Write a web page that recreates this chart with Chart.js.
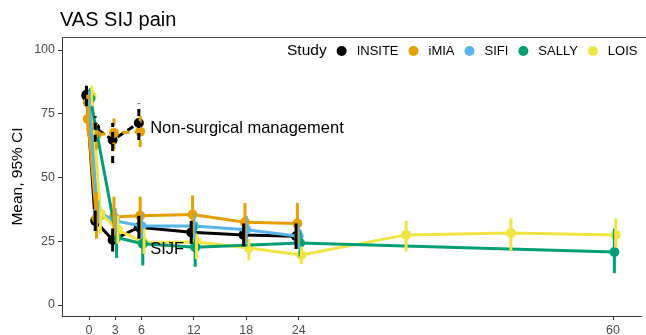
<!DOCTYPE html>
<html>
<head>
<meta charset="utf-8">
<script src="https://cdn.jsdelivr.net/npm/chart.js@4/dist/chart.umd.min.js"></script>
<style>
  html, body { margin: 0; padding: 0; background: #ffffff; }
  #wrap { width: 646px; height: 335px; }
</style>
</head>
<body>
<div id="wrap"><canvas id="chart" width="646" height="335"></canvas></div>
<script>
// Studies and their colours
const studies = ['INSITE', 'iMIA', 'SIFI', 'SALLY', 'LOIS'];
const studyColors = ['#000000', '#E69F00', '#56B4E9', '#009E73', '#F0E442'];
const studyDodge = [-0.3, -0.15, 0, 0.15, 0.3];

// Axis ticks
const xTicks = [0, 3, 6, 12, 18, 24, 60];
const yTicks = [0, 25, 50, 75, 100];

// SIJF arms: months, mean VAS and 95% CI
const insiteSijfMonths = [0, 1, 3, 6, 12, 18, 24];
const insiteSijfMean   = [82.5, 33, 25.5, 30.5, 28.5, 27.5, 27];
const insiteSijfLow    = [79, 29, 21, 26, 24, 23, 22];
const insiteSijfHigh   = [86, 37, 30, 35, 33, 32, 32];

const imiaSijfMonths = [0, 1, 3, 6, 12, 18, 24];
const imiaSijfMean   = [73, 34, 34.5, 35, 35.5, 32.5, 32];
const imiaSijfLow    = [68, 26, 27, 28, 28, 25, 24];
const imiaSijfHigh   = [78, 44, 42.5, 42.5, 43, 40, 40];

const sifiSijfMonths = [0, 1, 3, 6, 12, 18, 24];
const sifiSijfMean   = [80, 36.5, 33, 31, 31, 29.5, 27];
const sifiSijfLow    = [76, 32, 28, 26, 26, 24, 22];
const sifiSijfHigh   = [84, 41, 38, 36, 36, 35, 32];

const sallySijfMonths = [0, 3, 6, 12, 24, 60];
const sallySijfMean   = [81, 26.5, 24, 22.7, 24.3, 20.8];
const sallySijfLow    = [77, 18.5, 15.5, 15, 19, 12.5];
const sallySijfHigh   = [85, 34, 30, 32, 29.5, 30];

const loisSijfMonths = [0, 1, 3, 6, 12, 18, 24, 36, 48, 60];
const loisSijfMean   = [82, 36, 29.5, 24.5, 24.7, 22.4, 19.6, 27.5, 28.2, 27.5];
const loisSijfLow    = [78, 28, 24, 20, 18, 17.5, 16, 21, 21.5, 22.5];
const loisSijfHigh   = [86, 38.5, 35, 30, 28, 26, 23, 33, 34, 34];

// Non-surgical management arms
const insiteNsmMonths = [0, 1, 3, 6];
const insiteNsmMean   = [82, 69.5, 64.7, 71.4];
const insiteNsmLow    = [78, 64, 55.7, 64.7];
const insiteNsmHigh   = [86, 74, 71.4, 79];

const imiaNsmMonths = [0, 1, 3, 6];
const imiaNsmMean   = [79.5, 66.7, 67.5, 68];
const imiaNsmLow    = [75, 61, 61, 62];
const imiaNsmHigh   = [84, 71, 74, 74.5];

// Group annotations (data coordinates)
const groupLabels = ['Non-surgical management', 'SIJF'];
const groupLabelMonth = [7, 7];
const groupLabelValue = [69.4, 21.6];

const FONT = '"Liberation Sans", Arial, Helvetica, sans-serif';

function arm(studyIdx, months, mean, low, high, dashed) {
  const color = studyColors[studyIdx];
  return {
    label: studies[studyIdx] + (dashed ? ' (non-surgical)' : ' (SIJF)'),
    data: months.map((m, i) => ({ x: m + studyDodge[studyIdx], y: mean[i] })),
    ciLow: low,
    ciHigh: high,
    dashed: dashed,
    borderColor: color,
    backgroundColor: color,
    borderWidth: 3,
    borderDash: dashed ? [7, 5] : [],
    pointRadius: 5,
    pointHoverRadius: 5,
    pointBorderWidth: 0,
    pointBackgroundColor: color,
    tension: 0,
    fill: false,
    clip: false
  };
}

const datasets = [
  arm(3, sallySijfMonths, sallySijfMean, sallySijfLow, sallySijfHigh, false),
  arm(4, loisSijfMonths, loisSijfMean, loisSijfLow, loisSijfHigh, false),
  arm(2, sifiSijfMonths, sifiSijfMean, sifiSijfLow, sifiSijfHigh, false),
  arm(1, imiaSijfMonths, imiaSijfMean, imiaSijfLow, imiaSijfHigh, false),
  arm(0, insiteSijfMonths, insiteSijfMean, insiteSijfLow, insiteSijfHigh, false),
  arm(1, imiaNsmMonths, imiaNsmMean, imiaNsmLow, imiaNsmHigh, true),
  arm(0, insiteNsmMonths, insiteNsmMean, insiteNsmLow, insiteNsmHigh, true)
];

// Vertical 95% CI whiskers
const errorBars = {
  id: 'errorBars',
  afterDatasetsDraw(chart) {
    const ctx = chart.ctx;
    const y = chart.scales.y;
    chart.data.datasets.forEach((ds, di) => {
      const meta = chart.getDatasetMeta(di);
      ctx.save();
      ctx.strokeStyle = ds.borderColor;
      ctx.lineWidth = 3;
      ctx.setLineDash(ds.dashed ? [7, 5] : []);
      meta.data.forEach((pt, i) => {
        ctx.beginPath();
        ctx.moveTo(pt.x, y.getPixelForValue(ds.ciLow[i]));
        ctx.lineTo(pt.x, y.getPixelForValue(ds.ciHigh[i]));
        ctx.stroke();
      });
      ctx.restore();
    });
  }
};

// Title, axis title, panel top border, group labels and legend
const decorations = {
  id: 'decorations',
  afterDraw(chart) {
    const ctx = chart.ctx;
    const area = chart.chartArea;
    const xs = chart.scales.x, ys = chart.scales.y;
    ctx.save();

    // top border of the panel
    ctx.strokeStyle = '#4d4d4d';
    ctx.lineWidth = 1;
    ctx.beginPath();
    ctx.moveTo(area.left, area.top + 0.5);
    ctx.lineTo(chart.width, area.top + 0.5);
    ctx.stroke();

    // title
    ctx.fillStyle = '#000000';
    ctx.font = '20px ' + FONT;
    ctx.textAlign = 'left';
    ctx.textBaseline = 'alphabetic';
    ctx.fillText('VAS SIJ pain', 60, 25.5);

    // y axis title
    ctx.save();
    ctx.translate(18, (area.top + area.bottom) / 2);
    ctx.rotate(-Math.PI / 2);
    ctx.font = '15.5px ' + FONT;
    ctx.textAlign = 'center';
    ctx.textBaseline = 'middle';
    ctx.fillText('Mean, 95% CI', 0, 0);
    ctx.restore();

    // group labels
    ctx.font = '16.5px ' + FONT;
    ctx.textAlign = 'left';
    ctx.textBaseline = 'middle';
    groupLabels.forEach((t, i) => {
      ctx.fillText(t, xs.getPixelForValue(groupLabelMonth[i]), ys.getPixelForValue(groupLabelValue[i]));
    });

    // legend
    const ly = 51;
    let lx = 287;
    ctx.font = '15.5px ' + FONT;
    ctx.fillText('Study', lx, ly);
    lx += ctx.measureText('Study').width;
    ctx.font = '13px ' + FONT;
    studies.forEach((s, i) => {
      const cx = lx + 15;
      ctx.fillStyle = studyColors[i];
      ctx.beginPath();
      ctx.arc(cx, ly, 5, 0, Math.PI * 2);
      ctx.fill();
      ctx.fillStyle = '#000000';
      ctx.fillText(s, cx + 15, ly);
      lx = cx + 15 + ctx.measureText(s).width;
    });
    ctx.restore();
  }
};

new Chart(document.getElementById('chart'), {
  type: 'line',
  data: { datasets: datasets },
  options: {
    responsive: false,
    animation: false,
    devicePixelRatio: 1,
    layout: { padding: { top: 37, left: 0, right: 0, bottom: 0 } },
    plugins: { legend: { display: false }, title: { display: false }, tooltip: { enabled: false } },
    scales: {
      x: {
        type: 'linear',
        min: -3.1,
        max: 63.2,
        afterBuildTicks: (scale) => { scale.ticks = xTicks.map(v => ({ value: v })); },
        afterFit: (scale) => { scale.height = 19; },
        grid: { drawOnChartArea: false, drawTicks: true, tickLength: 4, tickColor: '#333333', tickWidth: 1 },
        border: { display: true, color: '#333333', width: 1 },
        ticks: { color: '#4d4d4d', font: { family: FONT, size: 12.5 }, padding: 3, maxRotation: 0, autoSkip: false }
      },
      y: {
        type: 'linear',
        min: -4.3,
        max: 105.1,
        afterBuildTicks: (scale) => { scale.ticks = yTicks.map(v => ({ value: v })); },
        afterFit: (scale) => { scale.width = 62; },
        grid: { drawOnChartArea: false, drawTicks: true, tickLength: 4, tickColor: '#333333', tickWidth: 1 },
        border: { display: true, color: '#333333', width: 1 },
        ticks: { color: '#4d4d4d', font: { family: FONT, size: 12.5 }, padding: 3 }
      }
    }
  },
  plugins: [errorBars, decorations]
});
</script>
</body>
</html>
